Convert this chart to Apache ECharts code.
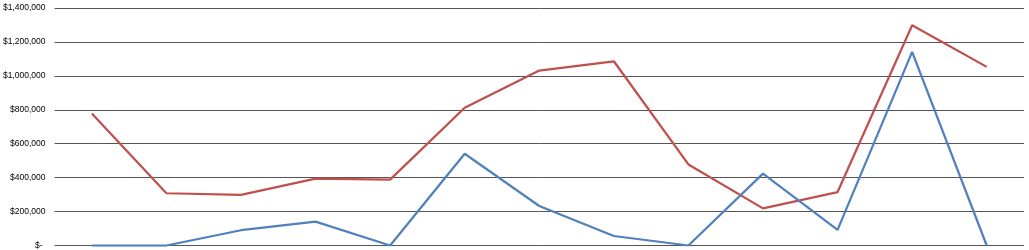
<!DOCTYPE html>
<html>
<head>
<meta charset="utf-8">
<script src="https://cdn.jsdelivr.net/npm/echarts@6/dist/echarts.min.js"></script>
<style>
html,body{margin:0;padding:0;background:#fff;}
#chart{width:1029px;height:250px;}
</style>
</head>
<body>
<div id="chart"></div>
<script>
var categories = ['1','2','3','4','5','6','7','8','9','10','11','12','13'];
var redValues = [778000, 308000, 298000, 394000, 388000, 812000, 1031000, 1086000, 478000, 219000, 315000, 1298000, 1053000];
var blueValues = [0, 0, 90000, 141000, 0, 541000, 233000, 56000, 0, 424000, 92000, 1141000, 0];
var yTicks = [0, 200000, 400000, 600000, 800000, 1000000, 1200000, 1400000];

function fmt(v) {
  if (v === 0) return '{z|$-}';
  return '$' + v.toString().replace(/\B(?=(\d{3})+(?!\d))/g, ',');
}

var chart = echarts.init(document.getElementById('chart'), null, {renderer: 'canvas'});
chart.setOption({
  animation: false,
  backgroundColor: '#ffffff',
  grid: {left: 51.6, right: 5, top: 8, bottom: 3.4, containLabel: false},
  xAxis: {
    type: 'category',
    data: categories,
    boundaryGap: true,
    axisLine: {show: false},
    axisTick: {show: false},
    axisLabel: {show: false},
    splitLine: {show: false}
  },
  yAxis: {
    type: 'value',
    min: yTicks[0],
    max: yTicks[yTicks.length - 1],
    interval: 200000,
    axisLine: {show: false},
    axisTick: {show: false},
    axisLabel: {
      formatter: fmt,
      margin: 9,
      color: '#000000',
      fontFamily: 'Liberation Sans Narrow, Liberation Sans, Arial',
      fontSize: 8.5,
      rich: {z: {padding: [0, 3, 0, 0], color: '#000', fontSize: 8.5, fontFamily: 'Liberation Sans Narrow, Liberation Sans, Arial'}}
    },
    splitLine: {show: true, lineStyle: {color: '#555555', width: 1}}
  },
  series: [
    {
      type: 'line',
      data: redValues,
      showSymbol: false,
      symbol: 'none',
      lineStyle: {color: '#C0504D', width: 2.25},
      itemStyle: {color: '#C0504D'}
    },
    {
      type: 'line',
      data: blueValues,
      showSymbol: false,
      symbol: 'none',
      lineStyle: {color: '#4F81BD', width: 2.25},
      itemStyle: {color: '#4F81BD'}
    }
  ]
});
</script>
</body>
</html>
